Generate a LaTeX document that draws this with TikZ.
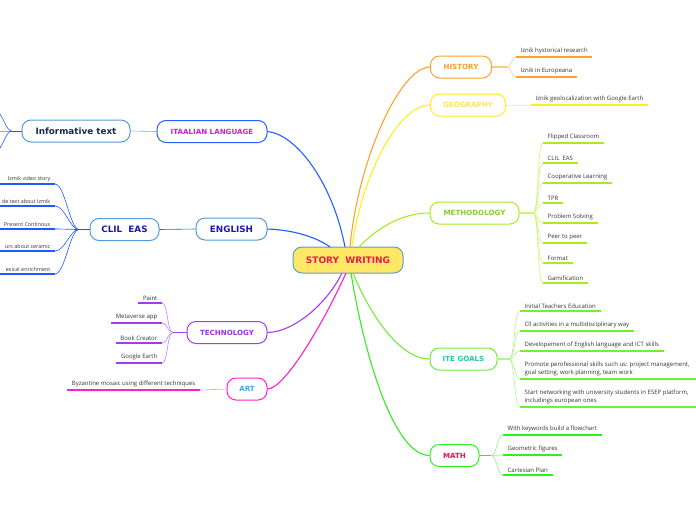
\documentclass[tikz,border=0pt]{standalone}
\usepackage{fontspec}
\setmainfont{Open Sans}
\newfontfamily\boxfont{DejaVu Sans}
\usepackage{tikz}
\usetikzlibrary{positioning}

\definecolor{rootfill}{RGB}{255, 232, 102}
\definecolor{rootline}{RGB}{91, 155, 213}
\definecolor{rootred}{RGB}{232, 25, 75}
\definecolor{itaborder}{RGB}{40, 96, 255}
\definecolor{itatext}{RGB}{204, 34, 204}
\definecolor{engline}{RGB}{30, 90, 255}
\definecolor{englight}{RGB}{136, 170, 238}
\definecolor{engborder}{RGB}{85, 153, 221}
\definecolor{engtext}{RGB}{26, 26, 170}
\definecolor{infotext}{RGB}{27, 42, 74}
\definecolor{techline}{RGB}{162, 60, 240}
\definecolor{techlight}{RGB}{200, 130, 250}
\definecolor{techtext}{RGB}{153, 51, 221}
\definecolor{artline}{RGB}{255, 31, 207}
\definecolor{artlight}{RGB}{255, 136, 232}
\definecolor{arttext}{RGB}{63, 169, 245}
\definecolor{histline}{RGB}{255, 162, 46}
\definecolor{histlight}{RGB}{255, 200, 128}
\definecolor{histtext}{RGB}{245, 160, 48}
\definecolor{geoline}{RGB}{255, 238, 30}
\definecolor{geolight}{RGB}{255, 245, 140}
\definecolor{geotext}{RGB}{255, 228, 92}
\definecolor{methline}{RGB}{168, 236, 30}
\definecolor{methlight}{RGB}{204, 246, 120}
\definecolor{methtext}{RGB}{136, 204, 51}
\definecolor{iteline}{RGB}{112, 238, 56}
\definecolor{itelight}{RGB}{168, 248, 144}
\definecolor{itetext}{RGB}{34, 204, 160}
\definecolor{mathline}{RGB}{51, 238, 34}
\definecolor{mathlight}{RGB}{140, 245, 130}
\definecolor{mathtext}{RGB}{238, 17, 85}
\definecolor{leafgrey}{RGB}{51, 51, 51}

\begin{document}
\begin{tikzpicture}[x=1pt, y=-1pt,
  root/.style={draw=rootline, fill=rootfill, line width=1pt, rounded corners=9pt, minimum width=110pt, minimum height=26pt, inner sep=0pt, text=rootred, font=\boxfont\bfseries\fontsize{9}{10}\selectfont},
  branch/.style={draw, fill=white, line width=1pt, rounded corners=9pt, minimum height=22pt, inner sep=0pt, font=\boxfont\bfseries\fontsize{7.1}{8}\selectfont},
  bigbranch/.style={branch, font=\boxfont\bfseries\fontsize{8.8}{10}\selectfont},
  leafR/.style={anchor=south west, inner xsep=4.5pt, inner ysep=2.5pt, text=leafgrey, align=left, font=\fontsize{6}{8.7}\selectfont},
  leafL/.style={leafR, anchor=south east, align=right},
  edgeleaf/.style={leafL, font=\fontsize{5.4}{7}\selectfont},
  stem/.style={line width=1.1pt},
  twig/.style={line width=0.6pt},
  under/.style={line width=2pt}
]
  \useasboundingbox (0,0) rectangle (696,520);
  \coordinate (edgeW) at (0,0);
  \coordinate (edgeE) at (696,0);

  % centre and main branches
  \node[root] (story) at (348,260) {STORY\ \ WRITING};
  \node[branch, draw=itaborder, text=itatext, minimum width=110pt] (ital) at (212,131.5) {ITAALIAN LANGUAGE};
  \node[bigbranch, draw=engborder, text=infotext, minimum width=108pt] (info) at (76,131) {Informative text};
  \node[bigbranch, draw=engborder, text=engtext, minimum width=71pt] (eng) at (231.5,229) {ENGLISH};
  \node[bigbranch, draw=engborder, text=engtext, minimum width=69pt] (clil) at (124.5,229.5) {CLIL\ \ EAS};
  \node[branch, draw=techline, text=techtext, minimum width=80pt] (tech) at (227,332.5) {TECHNOLOGY};
  \node[branch, draw=artline, text=arttext, minimum width=40pt] (art) at (247,389) {ART};
  \node[branch, draw=histline, text=histtext, minimum width=61pt] (hist) at (461,67) {HISTORY};
  \node[branch, draw=geoline, text=geotext, minimum width=75pt] (geo) at (468,105) {GEOGRAPHY};
  \node[branch, draw=methline, text=methtext, minimum width=89pt] (meth) at (474.5,213) {METHODOLOGY};
  \node[branch, draw=iteline, text=itetext, minimum width=67pt] (ite) at (463.5,359) {ITE GOALS};
  \node[branch, draw=mathline, text=mathtext, minimum width=49pt] (math) at (454.5,455.5) {MATH};

  \coordinate (hubEng) at (330,247);
  \coordinate (hubIta) at (345,247);
  \coordinate (hubHist) at (350,247);
  \coordinate (hubGeo) at (352,247);
  \coordinate (hubMeth) at (359,247);
  \coordinate (hubTech) at (342,273);
  \coordinate (hubArt) at (346,273);
  \coordinate (hubMath) at (351,273);
  \coordinate (hubIte) at (353,273);

  \draw[stem, itaborder] (ital.east) .. controls (295,134) and (332,180) .. (hubIta);
  \draw[stem, engline] (eng.east) .. controls (295,230) and (318,238) .. (hubEng);
  \draw[stem, histline] (hubHist) .. controls (358,160) and (400,67) .. (hist.west);
  \draw[stem, geoline] (hubGeo) .. controls (362,175) and (398,105) .. (geo.west);
  \draw[stem, methline] (hubMeth) .. controls (375,230) and (400,213) .. (meth.west);
  \draw[stem, techline] (tech.east) .. controls (295,332) and (328,302) .. (hubTech);
  \draw[stem, artline] (art.east) .. controls (285,389) and (325,320) .. (hubArt);
  \draw[stem, iteline] (hubIte) .. controls (370,315) and (400,359) .. (ite.west);
  \draw[stem, mathline] (hubMath) .. controls (365,360) and (395,455.5) .. (math.west);

  % italian language
  \draw[twig, englight] (ital.west) -- (info.east);
  \coordinate (infofork) at (12,131);
  \coordinate (infoUp) at (0,114);
  \coordinate (infoDown) at (0,148);
  \draw[twig, engline] (info.west) -- (infofork);
  \draw[twig, englight] (infofork) -- (infofork -| edgeW);
  \draw[twig, engline] (infofork) .. controls (7,131) and (4,120) .. (infoUp);
  \draw[twig, engline] (infofork) .. controls (7,131) and (4,142) .. (infoDown);

  % english
  \draw[twig, engline] (eng.west) -- (clil.east);
  \coordinate (clilfork) at (79,229.5);
  \draw[stem, engline] (clil.west) -- (clilfork);
  \node[edgeleaf] (c1) at (55,184) {Izmik video story};
  \node[edgeleaf] (c2) at (55,206) {de text about Izmik};
  \node[edgeleaf] (c3) at (55,229) {Present Continous};
  \node[edgeleaf] (c4) at (55,251) {urs about ceramic};
  \node[edgeleaf] (c5) at (55,274) {exical enrichment};
  \foreach \n in {c1,c2,c3,c4,c5} {
    \draw[under, engline] (\n.south east) -- (\n.south east -| edgeW);
    \draw[twig, engline] (clilfork) .. controls +(-9,0) and +(10,0) .. (\n.south east);
  }

  % technology
  \coordinate (techfork) at (173,332.5);
  \draw[stem, techline] (tech.west) -- (techfork);
  \node[leafL] (t1) at (162,303) {Paint};
  \node[leafL] (t2) at (162,323) {Metaverse app};
  \node[leafL] (t3) at (162,343) {Book Creator};
  \node[leafL] (t4) at (162,363) {Google Earth};
  \foreach \n in {t1,t2,t3,t4} {
    \draw[under, techline] (\n.south west) -- (\n.south east);
    \draw[twig, techlight] (techfork) .. controls +(-6,0) and +(6,0) .. (\n.south east);
  }

  % art
  \node[leafL] (a1) at (200,390) {Byzantine mosaic using different techniques};
  \draw[under, artline] (a1.south west) -- (a1.south east);
  \draw[twig, artlight] (art.west) -- (a1.south east);

  % history
  \coordinate (histfork) at (507,67);
  \draw[stem, histlight] (hist.east) -- (histfork);
  \node[leafR] (h1) at (516,57) {Iznik hystorical research};
  \node[leafR] (h2) at (516,77) {Iznik in Europeana};
  \foreach \n in {h1,h2} {
    \draw[under, histline] (\n.south west) -- (\n.south east);
    \draw[twig, histlight] (histfork) .. controls +(5,0) and +(-5,0) .. (\n.south west);
  }

  % geography
  \node[leafR] (g1) at (531,105) {Iznik geolocalization with Google Earth};
  \draw[under, geoline] (g1.south west) -- (g1.south east);
  \draw[twig, geolight] (geo.east) -- (g1.south west);

  % methodology
  \coordinate (methfork) at (533,213);
  \draw[stem, methlight] (meth.east) -- (methfork);
  \node[leafR] (m1) at (543,143) {Flipped Classroom};
  \node[leafR] (m2) at (543,163) {CLIL\ \ EAS};
  \node[leafR] (m3) at (543,183) {Cooperative Learning};
  \node[leafR] (m4) at (543,203) {TPR};
  \node[leafR] (m5) at (543,223) {Problem Solving};
  \node[leafR] (m6) at (543,243) {Peer to peer};
  \node[leafR] (m7) at (543,263) {Format};
  \node[leafR] (m8) at (543,283) {Gamification};
  \foreach \n in {m1,m2,m3,m4,m5,m6,m7,m8} {
    \draw[under, methline] (\n.south west) -- (\n.south east);
    \draw[twig, methlight] (methfork) .. controls +(6,0) and +(-6,0) .. (\n.south west);
  }

  % ite goals
  \coordinate (itefork) at (509,359);
  \draw[stem, itelight] (ite.east) -- (itefork);
  \node[leafR] (i1) at (520,311) {Initial Teachers Education};
  \node[leafR] (i2) at (520,331) {Cll activities in a multidisciplinary way};
  \node[leafR] (i3) at (520,351) {Developement of English language and ICT skills};
  \node[leafR] (i4) at (520,379) {Promote perofessional skills such us: project management,\\goal setting, work planning, team work};
  \node[leafR] (i5) at (520,407) {Start networking with university students in ESEP platform,\\includings european ones};
  \foreach \n in {i1,i2,i3} {
    \draw[under, iteline] (\n.south west) -- (\n.south east);
  }
  \foreach \n in {i4,i5} {
    \draw[under, iteline] (\n.south west) -- (\n.south west -| edgeE);
  }
  \foreach \n in {i1,i2,i3,i4,i5} {
    \draw[twig, itelight] (itefork) .. controls +(6,0) and +(-6,0) .. (\n.south west);
  }

  % math
  \coordinate (mathfork) at (491,455.5);
  \draw[stem, mathline] (math.east) -- (mathfork);
  \node[leafR] (k1) at (503,435) {With keywords build a flowchart};
  \node[leafR] (k2) at (503,455) {Geometric figures};
  \node[leafR] (k3) at (503,475) {Cartesian Plan};
  \foreach \n in {k1,k2,k3} {
    \draw[under, mathline] (\n.south west) -- (\n.south east);
    \draw[twig, mathlight] (mathfork) .. controls +(6,0) and +(-6,0) .. (\n.south west);
  }
\end{tikzpicture}
\end{document}
